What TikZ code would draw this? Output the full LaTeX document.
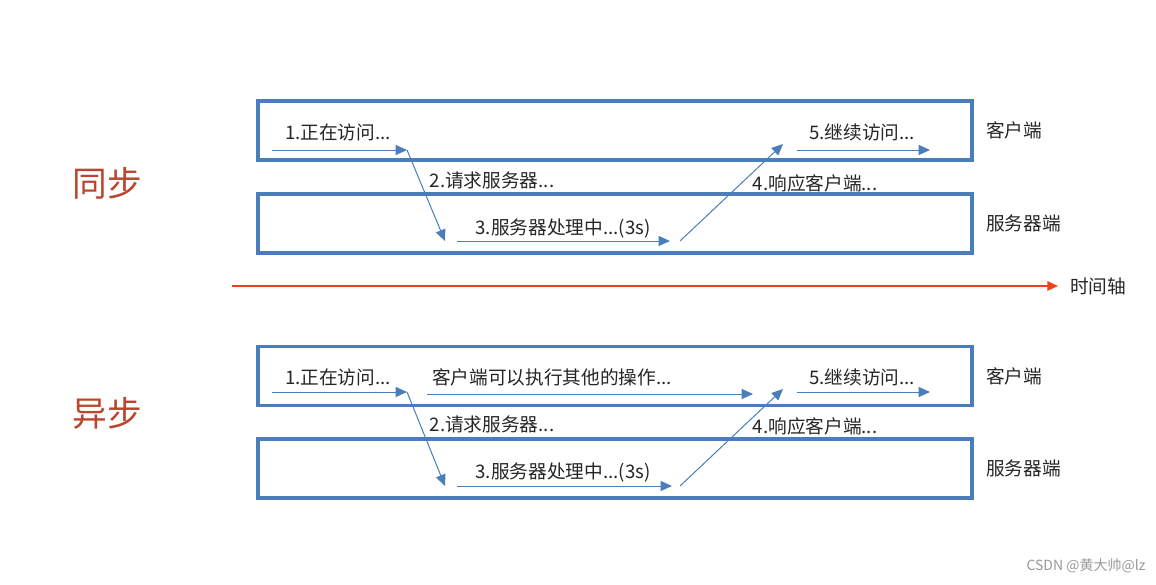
\documentclass[tikz,border=0pt]{standalone}
\usepackage{fontspec}
\setmainfont{Noto Sans CJK SC}
\usepackage{tikz}
\usetikzlibrary{arrows.meta, positioning}

\definecolor{boxblue}{RGB}{74,126,187}
\definecolor{titlered}{RGB}{184,71,46}
\definecolor{axisred}{RGB}{242,64,30}
\definecolor{txtgray}{RGB}{38,38,38}

\begin{document}
\begin{tikzpicture}[
    x=0.75pt, y=-0.75pt,
    lane/.style={draw=boxblue, line width=2.6pt, minimum width=535.5pt, minimum height=44.25pt, inner sep=0pt},
    lbl/.style={font=\fontsize{14}{16}\selectfont, text=txtgray, inner sep=1pt},
    title/.style={font=\fontsize{26}{28}\selectfont, text=titlered, inner sep=0pt},
    flow/.style={draw=boxblue, line width=0.75pt, -{Triangle[length=8.5pt, width=7.5pt]}},
    timeline/.style={draw=axisred, line width=1.4pt, -{Triangle[length=8pt, width=7pt]}}
]
\useasboundingbox (0,0) rectangle (1156,585);

% Sync
\node[title] (sync) at (107,183) {同步};
\node[lane] (c1) at (615,130.5) {};
\node[lane] (s1) at (615,223.5) {};
\node[lbl, right=8pt of c1.east] (c1name) {客户端};
\node[lbl, right=8pt of s1.east] (s1name) {服务器端};

\coordinate (a1) at (272,150);
\coordinate (b1) at (407,150);
\coordinate (d1) at (445,241);
\coordinate (e1) at (457,241);
\coordinate (f1) at (670,241);
\coordinate (g1) at (680,241);
\coordinate (h1) at (783,144);
\coordinate (i1) at (797,150);
\coordinate (j1) at (930,150);

\node[lbl] (t1) at (338,132) {1.正在访问...};
\node[lbl] (t2) at (492,180) {2.请求服务器...};
\node[lbl] (t3) at (563,228) {3.服务器处理中...(3s)};
\node[lbl] (t4) at (815,183) {4.响应客户端...};
\node[lbl] (t5) at (862,132) {5.继续访问...};

\draw[flow] (a1) -- (b1);
\draw[flow] (b1) -- (d1);
\draw[flow] (e1) -- (f1);
\draw[flow] (g1) -- (h1);
\draw[flow] (i1) -- (j1);

% Time axis
\coordinate (ax0) at (232,286);
\coordinate (ax1) at (1058,286);
\draw[timeline] (ax0) -- (ax1);
\node[lbl, right=8pt of ax1] (axname) {时间轴};

% Async
\node[title] (async) at (107,413) {异步};
\node[lane] (c2) at (615,376) {};
\node[lane] (s2) at (615,468.5) {};
\node[lbl, right=8pt of c2.east] (c2name) {客户端};
\node[lbl, right=8pt of s2.east] (s2name) {服务器端};

\coordinate (a2) at (272,392);
\coordinate (b2) at (407,392);
\coordinate (k2) at (427,394);
\coordinate (l2) at (753,394);
\coordinate (d2) at (445,486);
\coordinate (e2) at (457,486);
\coordinate (f2) at (672,486);
\coordinate (g2) at (680,486);
\coordinate (h2) at (783,389);
\coordinate (i2) at (797,392);
\coordinate (j2) at (930,392);

\node[lbl] (u1) at (338,377) {1.正在访问...};
\node[lbl] (u0) at (552,377) {客户端可以执行其他的操作...};
\node[lbl] (u2) at (492,424) {2.请求服务器...};
\node[lbl] (u3) at (563,472) {3.服务器处理中...(3s)};
\node[lbl] (u4) at (815,426) {4.响应客户端...};
\node[lbl] (u5) at (862,377) {5.继续访问...};

\draw[flow] (a2) -- (b2);
\draw[flow] (k2) -- (l2);
\draw[flow] (b2) -- (d2);
\draw[flow] (e2) -- (f2);
\draw[flow] (g2) -- (h2);
\draw[flow] (i2) -- (j2);

% Watermark
\node[font=\fontsize{10.5}{12}\selectfont, text=gray!80] (mark) at (1086,566) {CSDN @黄大帅@lz};

\end{tikzpicture}
\end{document}
